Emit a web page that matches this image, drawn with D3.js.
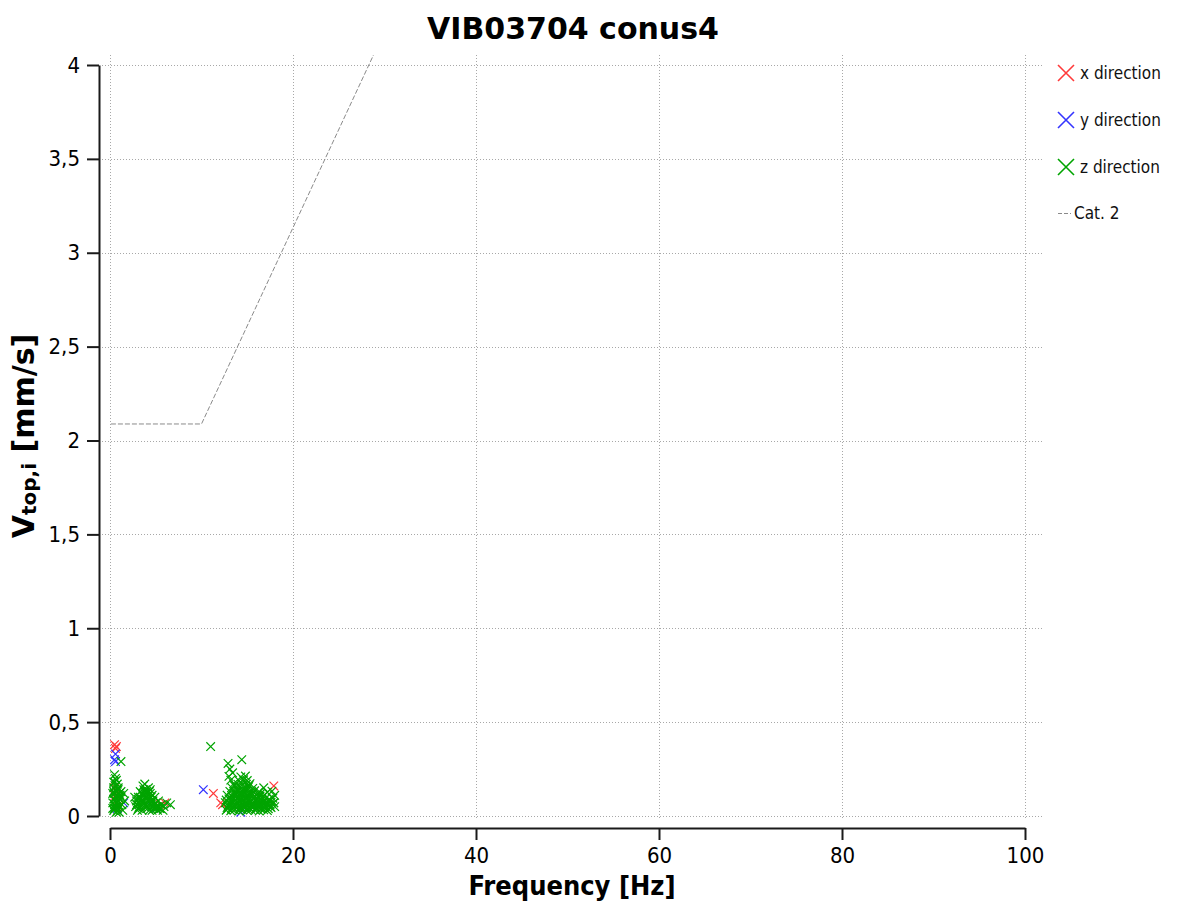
<!DOCTYPE html>
<html>
<head>
<meta charset="utf-8">
<script src="https://cdn.jsdelivr.net/npm/d3@7"></script>
<style>
  html, body { margin: 0; padding: 0; background: #fff; }
  svg { display: block; }
  .tick text { font-family: "DejaVu Sans Condensed", "Liberation Sans", sans-serif; }
</style>
</head>
<body>
<svg id="chart" width="1179" height="902"></svg>
<script>
// ---------------- data ----------------
const chartTitle = "VIB03704 conus4";
const xTickValues = [0, 20, 40, 60, 80, 100];
const xTickLabels = ["0", "20", "40", "60", "80", "100"];
const yTickValues = [0, 0.5, 1, 1.5, 2, 2.5, 3, 3.5, 4];
const yTickLabels = ["0", "0,5", "1", "1,5", "2", "2,5", "3", "3,5", "4"];
const xMinorTicks = [5, 10, 15, 25, 30, 35, 45, 50, 55, 65, 70, 75, 85, 90, 95];
const yMinorTicks = [0.1,0.2,0.3,0.4,0.6,0.7,0.8,0.9,1.1,1.2,1.3,1.4,1.6,1.7,1.8,1.9,2.1,2.2,2.3,2.4,2.6,2.7,2.8,2.9,3.1,3.2,3.3,3.4,3.6,3.7,3.8,3.9];

const seriesNames = ["x direction", "y direction", "z direction", "Cat. 2"];

// x direction (red): frequency [Hz], velocity [mm/s]
const xDirFreq = [0.5, 0.7, 0.6, 0.5, 0.7, 0.6, 5.5, 6.0, 11.3, 12.1, 12.3, 17.9, 0.9];
const xDirVel  = [0.38, 0.37, 0.36, 0.15, 0.13, 0.11, 0.06, 0.07, 0.12, 0.07, 0.06, 0.16, 0.05];

// y direction (blue)
const yDirFreq = [0.6, 0.5, 0.6, 1.5, 0.8, 5.0, 10.2, 14.3, 4.6];
const yDirVel  = [0.33, 0.30, 0.29, 0.07, 0.04, 0.04, 0.14, 0.02, 0.05];

// z direction (green)
const zDirFreq = [
  // around 0-2 Hz
  0.4, 0.6, 0.8, 1.0, 0.5, 0.7, 0.9, 0.4, 0.6, 0.8, 1.1, 0.5, 0.7, 0.9, 0.4, 0.6, 0.8, 1.2, 1.5, 0.5, 0.7, 0.5, 1.3, 1.6, 1.2, 0.7, 1.0, 1.4, 0.3, 0.6, 1.1, 0.9,
  0.5, 0.7, 0.9, 0.3, 0.5, 0.8, 1.0, 0.4, 0.6, 0.9, 0.3, 0.6, 1.2, 0.4, 0.8,
  // around 3-7 Hz
  2.8, 2.9, 3.1, 3.2, 3.3, 3.4, 3.5, 3.6, 3.7, 3.8, 3.9, 4.0, 4.0, 4.2, 4.3, 4.4, 4.5, 4.6, 4.7, 4.8, 4.9, 5.0, 5.1, 5.3, 5.4, 5.6, 5.9, 6.2, 6.6, 3.0, 3.5, 4.3, 3.3, 4.1, 3.9, 4.6, 5.2, 5.8, 2.7, 3.6, 3.1, 4.4, 3.7, 2.9,
  3.0, 3.2, 3.4, 3.6, 3.8, 4.0, 4.2, 4.4, 4.6, 4.8, 5.0, 5.2, 5.5, 3.1, 3.5, 3.9, 4.3, 4.7, 5.1, 3.4, 3.8, 4.2, 4.5, 3.7, 4.1,
  // around 12-18 Hz
  12.7, 13.2, 13.6, 14.1, 14.5, 15.0, 15.4, 15.9, 16.3, 16.8, 17.2,
  12.9, 13.4, 13.8, 14.3, 14.7, 15.2, 15.6, 16.1, 16.5, 17.0, 17.5,
  12.6, 13.1, 13.5, 14.0, 14.4, 14.9, 15.3, 15.8, 16.2, 16.7, 17.1, 17.6,
  13.0, 13.4, 13.9, 14.3, 14.8, 15.2, 15.7, 16.1, 16.6, 17.0, 17.4,
  12.8, 13.3, 13.7, 14.2, 14.6, 15.1, 15.5, 16.0, 16.4, 16.9,
  13.1, 13.6, 14.0, 14.5, 14.9, 15.4, 15.8, 16.3, 17.2, 17.7,
  13.3, 13.8, 14.2, 14.7, 15.1, 15.6, 16.8,
  13.5, 14.0, 14.4, 14.9, 15.3, 17.9,
  13.2, 14.1, 14.6, 15.0,
  13.0, 14.3, 14.8, 13.4, 13.1, 12.9, 14.4, 11.0, 17.9, 18.0, 18.0,
  12.9, 13.3, 13.8, 14.2, 14.7, 15.1, 15.6, 16.0, 16.5, 16.9, 17.3,
  13.0, 13.5, 13.9, 14.4, 14.8, 15.3, 15.7, 16.2, 16.6, 17.1, 17.5,
  13.2, 13.6, 14.1, 14.5, 15.0, 15.4, 15.9, 16.3, 16.8, 17.3,
  13.4, 13.9, 14.3, 14.8, 15.2, 15.7, 16.2, 16.6,
  13.7, 14.2, 14.6, 15.1, 15.5, 16.4,
  13.6, 14.5, 15.2, 12.8, 12.7, 17.6, 17.8
];
const zDirVel = [
  0.03, 0.04, 0.03, 0.05, 0.06, 0.07, 0.08, 0.09, 0.10, 0.11, 0.09, 0.12, 0.13, 0.14, 0.15, 0.16, 0.17, 0.13, 0.12, 0.18, 0.19, 0.22, 0.06, 0.08, 0.29, 0.02, 0.02, 0.03, 0.07, 0.05, 0.11, 0.10,
  0.04, 0.05, 0.06, 0.12, 0.09, 0.14, 0.12, 0.18, 0.20, 0.15, 0.04, 0.08, 0.10, 0.13, 0.07,
  0.05, 0.08, 0.04, 0.07, 0.10, 0.05, 0.12, 0.08, 0.14, 0.17, 0.10, 0.13, 0.05, 0.15, 0.09, 0.12, 0.06, 0.11, 0.08, 0.04, 0.10, 0.07, 0.05, 0.08, 0.04, 0.06, 0.05, 0.07, 0.06, 0.03, 0.03, 0.03, 0.13, 0.08, 0.06, 0.03, 0.03, 0.03, 0.10, 0.16, 0.10, 0.14, 0.11, 0.06,
  0.06, 0.05, 0.08, 0.11, 0.13, 0.09, 0.11, 0.07, 0.08, 0.06, 0.05, 0.05, 0.04, 0.09, 0.07, 0.14, 0.13, 0.05, 0.04, 0.09, 0.12, 0.06, 0.10, 0.05, 0.04,
  0.031, 0.028, 0.033, 0.027, 0.032, 0.029, 0.034, 0.030, 0.026, 0.033, 0.029,
  0.052, 0.048, 0.054, 0.049, 0.051, 0.047, 0.053, 0.050, 0.046, 0.052, 0.049,
  0.071, 0.068, 0.073, 0.069, 0.072, 0.067, 0.074, 0.070, 0.066, 0.072, 0.069, 0.073,
  0.091, 0.088, 0.093, 0.089, 0.092, 0.087, 0.094, 0.090, 0.086, 0.092, 0.089,
  0.111, 0.108, 0.113, 0.109, 0.112, 0.107, 0.114, 0.110, 0.106, 0.112,
  0.131, 0.128, 0.133, 0.129, 0.132, 0.127, 0.134, 0.130, 0.126, 0.132,
  0.151, 0.148, 0.153, 0.149, 0.152, 0.147, 0.150,
  0.171, 0.168, 0.173, 0.169, 0.172, 0.070,
  0.191, 0.188, 0.193, 0.189,
  0.211, 0.208, 0.213, 0.23, 0.25, 0.28, 0.30, 0.37, 0.07, 0.05, 0.11,
  0.041, 0.038, 0.043, 0.039, 0.042, 0.037, 0.044, 0.040, 0.036, 0.042, 0.039,
  0.061, 0.058, 0.063, 0.059, 0.062, 0.057, 0.064, 0.060, 0.056, 0.062, 0.059,
  0.081, 0.078, 0.083, 0.079, 0.082, 0.077, 0.084, 0.080, 0.076, 0.082,
  0.101, 0.098, 0.103, 0.099, 0.102, 0.097, 0.104, 0.100,
  0.121, 0.118, 0.123, 0.119, 0.122, 0.117,
  0.161, 0.141, 0.162, 0.045, 0.085, 0.045, 0.095,
  2.13, 2.61
];

// Cat. 2 limit line
const catFreq = [0.1, 10, 50];
const catVel  = [2.088, 2.088, 6.27];

// ---------------- chart ----------------
const svg = d3.select("#chart");
const W = 1179, H = 902;
const plot = { left: 102, right: 1043, top: 55, bottom: 820 };

const x = d3.scaleLinear().domain([0, 100]).range([110, 1025]);
const y = d3.scaleLinear().domain([0, 4]).range([816, 65]);

const axisColor = "#1a1a1a";
const gridColor = "#a8a8a8";
const colors = { x: "#ff3a3a", y: "#3434ff", z: "#00a400", cat: "#8a8a8a" };
const tickFont = '"DejaVu Sans Condensed", "Liberation Sans", sans-serif';
const boldFont = '"DejaVu Sans", Verdana, sans-serif';

svg.append("rect").attr("width", W).attr("height", H).attr("fill", "#fff");

svg.append("defs").append("clipPath").attr("id", "plotclip")
  .append("rect")
  .attr("x", plot.left).attr("y", plot.top)
  .attr("width", plot.right - plot.left).attr("height", plot.bottom - plot.top);

// grid
const grid = svg.append("g");
grid.selectAll("line.v").data(xTickValues).join("line")
  .attr("x1", d => Math.round(x(d)) + 0.5).attr("x2", d => Math.round(x(d)) + 0.5)
  .attr("y1", plot.top).attr("y2", plot.bottom)
  .attr("stroke", gridColor).attr("stroke-width", 1).attr("stroke-dasharray", "1,2");
grid.selectAll("line.h").data(yTickValues).join("line")
  .attr("y1", d => Math.round(y(d)) + 0.5).attr("y2", d => Math.round(y(d)) + 0.5)
  .attr("x1", plot.left).attr("x2", plot.right)
  .attr("stroke", gridColor).attr("stroke-width", 1).attr("stroke-dasharray", "1,2");

// x axis
const xAxisG = svg.append("g").attr("transform", "translate(0,828)");
xAxisG.call(d3.axisBottom(x).tickValues(xMinorTicks).tickSize(6).tickSizeOuter(0).tickFormat(""));
xAxisG.call(d3.axisBottom(x).tickValues(xTickValues).tickSize(12).tickSizeOuter(0).tickPadding(7)
  .tickFormat((d, i) => xTickLabels[i]));
xAxisG.selectAll(".domain").attr("stroke", axisColor).attr("stroke-width", 2);
xAxisG.selectAll(".tick line").attr("stroke", axisColor).attr("stroke-width", 2);
xAxisG.selectAll(".tick text").attr("font-size", 22).attr("fill", "#000").attr("font-family", tickFont);

// y axis
const yAxisG = svg.append("g").attr("transform", "translate(99,0)");
yAxisG.call(d3.axisLeft(y).tickValues(yMinorTicks).tickSize(6).tickSizeOuter(0).tickFormat(""));
yAxisG.call(d3.axisLeft(y).tickValues(yTickValues).tickSize(12).tickSizeOuter(0).tickPadding(7)
  .tickFormat((d, i) => yTickLabels[i]));
yAxisG.selectAll(".domain").attr("stroke", axisColor).attr("stroke-width", 2);
yAxisG.selectAll(".tick line").attr("stroke", axisColor).attr("stroke-width", 2);
yAxisG.selectAll(".tick text").attr("font-size", 22).attr("fill", "#000").attr("font-family", tickFont);

// data layer
const dataG = svg.append("g").attr("clip-path", "url(#plotclip)");

// Cat. 2 line
const catData = catFreq.map((f, i) => [f, catVel[i]]);
dataG.append("path")
  .datum(catData)
  .attr("d", d3.line().x(d => x(d[0])).y(d => y(d[1])))
  .attr("fill", "none").attr("stroke", colors.cat).attr("stroke-width", 1)
  .attr("stroke-dasharray", "5,2");

function crossPath(s) {
  return `M${-s},${-s}L${s},${s}M${-s},${s}L${s},${-s}`;
}
function drawSeries(freqs, vels, color) {
  const pts = freqs.map((f, i) => [f, vels[i]]);
  dataG.append("g").selectAll("path").data(pts).join("path")
    .attr("transform", d => `translate(${x(d[0])},${y(d[1])})`)
    .attr("d", crossPath(4.3))
    .attr("fill", "none").attr("stroke", color).attr("stroke-width", 1.2);
}
drawSeries(xDirFreq, xDirVel, colors.x);
drawSeries(yDirFreq, yDirVel, colors.y);
drawSeries(zDirFreq, zDirVel, colors.z);

// title
svg.append("text")
  .attr("x", 573).attr("y", 39)
  .attr("text-anchor", "middle")
  .attr("font-family", boldFont).attr("font-weight", "bold").attr("font-size", 30)
  .attr("fill", "#000")
  .text(chartTitle);

// x label
svg.append("text")
  .attr("x", 572).attr("y", 895)
  .attr("text-anchor", "middle")
  .attr("font-family", '"DejaVu Sans Condensed", "DejaVu Sans", sans-serif')
  .attr("font-weight", "bold").attr("font-size", 27)
  .attr("fill", "#000")
  .text("Frequency [Hz]");

// y label
const yl = svg.append("text")
  .attr("transform", "translate(34,436) rotate(-90)")
  .attr("text-anchor", "middle")
  .attr("font-family", boldFont).attr("font-weight", "bold").attr("font-size", 30)
  .attr("fill", "#000");
yl.append("tspan").text("V");
yl.append("tspan").attr("font-size", 20).attr("dy", 2).text("top,i");
yl.append("tspan").attr("dy", -2).text(" [mm/s]");

// legend
const legendY = [73, 120, 167, 213];
const legendColors = [colors.x, colors.y, colors.z];
const lg = svg.append("g");
legendColors.forEach((c, i) => {
  lg.append("path")
    .attr("transform", `translate(1066,${legendY[i]})`)
    .attr("d", crossPath(8))
    .attr("fill", "none").attr("stroke", c).attr("stroke-width", 1.6);
  lg.append("text")
    .attr("x", 1080).attr("y", legendY[i]).attr("dy", "0.35em")
    .attr("font-family", tickFont).attr("font-size", 17).attr("fill", "#111")
    .text(seriesNames[i]);
});
lg.append("line")
  .attr("x1", 1058).attr("x2", 1071).attr("y1", legendY[3] + 0.5).attr("y2", legendY[3] + 0.5)
  .attr("stroke", colors.cat).attr("stroke-width", 1).attr("stroke-dasharray", "4,2");
lg.append("text")
  .attr("x", 1074).attr("y", legendY[3]).attr("dy", "0.35em")
  .attr("font-family", tickFont).attr("font-size", 17).attr("fill", "#111")
  .text(seriesNames[3]);
</script>
</body>
</html>
